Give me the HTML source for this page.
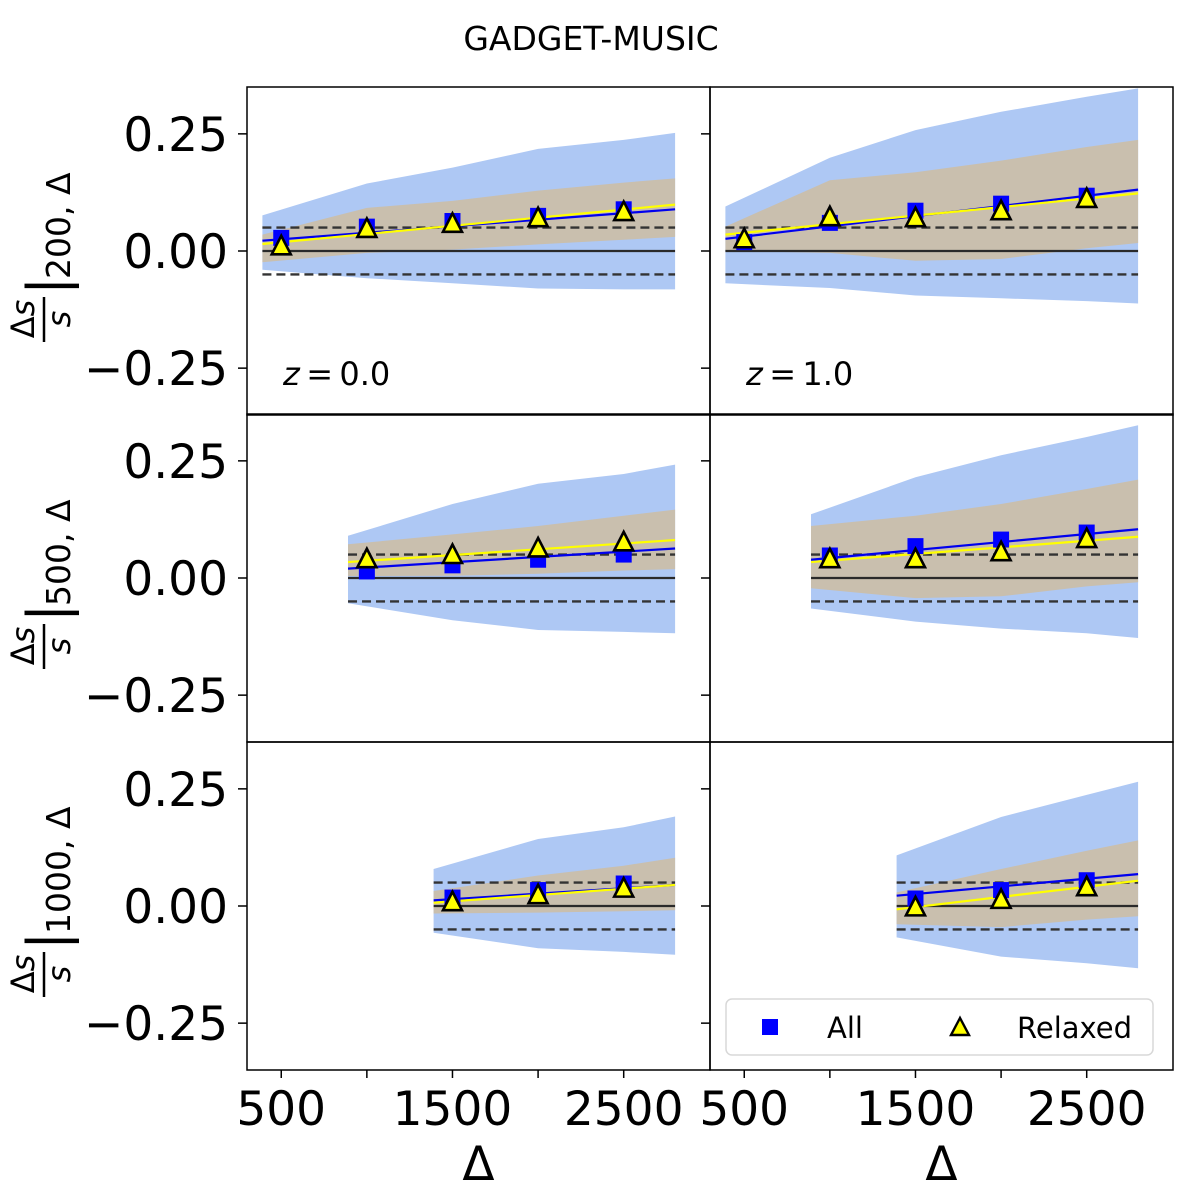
<!DOCTYPE html>
<html><head><meta charset="utf-8">
<style>
html,body{margin:0;padding:0;background:#fff;}
svg{display:block;font-family:"DejaVu Sans","Liberation Sans",sans-serif;}
</style></head>
<body>
<svg id="fig" width="1200" height="1194" viewBox="0 0 1200 1194" xmlns="http://www.w3.org/2000/svg">
<text x="591" y="50" font-size="33" text-anchor="middle">GADGET-MUSIC</text>
</svg>
<script>
// ---- data ----
const bandX = [[390,1000,1500,2000,2500,2800],[890,1500,2000,2500,2800],[1390,2000,2500,2800]];
// row 0 (200), col 0 (z=0) / col 1 (z=1)
const r0c0BlueUp = [0.076,0.144,0.178,0.218,0.237,0.252];
const r0c0BlueLo = [-0.040,-0.058,-0.069,-0.080,-0.082,-0.082];
const r0c0TanUp = [0.035,0.092,0.107,0.129,0.146,0.155];
const r0c0TanLo = [-0.024,-0.004,0.003,0.014,0.024,0.030];
const r0c0AllX = [500,1000,1500,2000,2500];
const r0c0All = [0.028,0.052,0.064,0.075,0.089];
const r0c0Rel = [0.009,0.046,0.057,0.069,0.082];
const r0c0FitAll = [0.022,0.089];
const r0c0FitRel = [0.015,0.099];

const r0c1BlueUp = [0.095,0.199,0.258,0.297,0.329,0.347];
const r0c1BlueLo = [-0.069,-0.079,-0.095,-0.101,-0.107,-0.112];
const r0c1TanUp = [0.052,0.151,0.168,0.193,0.222,0.237];
const r0c1TanLo = [0.000,-0.004,-0.021,-0.017,0.006,0.017];
const r0c1All = [0.019,0.060,0.086,0.101,0.118];
const r0c1Rel = [0.024,0.071,0.069,0.084,0.110];
const r0c1FitAll = [0.026,0.131];
const r0c1FitRel = [0.035,0.123];

// row 1 (500)
const r1AllX = [1000,1500,2000,2500];
const r1c0BlueUp = [0.090,0.158,0.201,0.222,0.242];
const r1c0BlueLo = [-0.054,-0.090,-0.111,-0.115,-0.118];
const r1c0TanUp = [0.072,0.093,0.111,0.133,0.146];
const r1c0TanLo = [0.004,0.005,0.009,0.016,0.019];
const r1c0All = [0.014,0.027,0.039,0.050];
const r1c0Rel = [0.039,0.048,0.062,0.075];
const r1c0FitAll = [0.020,0.063];
const r1c0FitRel = [0.034,0.081];

const r1c1BlueUp = [0.136,0.215,0.262,0.301,0.326];
const r1c1BlueLo = [-0.065,-0.093,-0.108,-0.118,-0.128];
const r1c1TanUp = [0.111,0.133,0.158,0.190,0.210];
const r1c1TanLo = [-0.022,-0.043,-0.039,-0.018,-0.009];
const r1c1All = [0.048,0.068,0.082,0.097];
const r1c1Rel = [0.039,0.039,0.054,0.082];
const r1c1FitAll = [0.039,0.104];
const r1c1FitRel = [0.034,0.088];

// row 2 (1000)
const r2AllX = [1500,2000,2500];
const r2c0BlueUp = [0.079,0.143,0.168,0.191];
const r2c0BlueLo = [-0.057,-0.090,-0.098,-0.104];
const r2c0TanUp = [0.032,0.065,0.086,0.103];
const r2c0TanLo = [-0.016,-0.014,-0.011,-0.009];
const r2c0All = [0.018,0.034,0.048];
const r2c0Rel = [0.007,0.022,0.036];
const r2c0FitAll = [0.012,0.045];
const r2c0FitRel = [0.007,0.045];

const r2c1BlueUp = [0.108,0.190,0.237,0.265];
const r2c1BlueLo = [-0.067,-0.108,-0.122,-0.133];
const r2c1TanUp = [0.029,0.079,0.118,0.140];
const r2c1TanLo = [-0.039,-0.045,-0.029,-0.022];
const r2c1All = [0.016,0.034,0.055];
const r2c1Rel = [-0.004,0.012,0.039];
const r2c1FitAll = [0.022,0.068];
const r2c1FitRel = [-0.007,0.054];

const yTicks = [-0.25,0,0.25];
const yTickLabels = ["\u22120.25","0.00","0.25"];
const xTicks = [500,1000,1500,2000,2500];
const xTickLabels = ["500","","1500","","2500"];
const rowSubs = ["200","500","1000"];
const zLabels = ["0.0","1.0"];

// ---- layout ----
const NS="http://www.w3.org/2000/svg";
const svg=document.getElementById('fig');
const colL=[247,710], colW=463, rowT=[87,414,742], rowH=328;
const XMIN=300, XMAX=3004, YMIN=-0.35, YMAX=0.35;
function mk(t,a,p){const e=document.createElementNS(NS,t);for(const k in a)e.setAttribute(k,a[k]);(p||svg).appendChild(e);return e;}
function sx(c,v){return colL[c]+(v-XMIN)/(XMAX-XMIN)*colW;}
function sy(r,v){return rowT[r]+(YMAX-v)/(YMAX-YMIN)*rowH;}

const panels=[
 {r:0,c:0,bx:bandX[0],bu:r0c0BlueUp,bl:r0c0BlueLo,tu:r0c0TanUp,tl:r0c0TanLo,px:r0c0AllX,a:r0c0All,re:r0c0Rel,fa:r0c0FitAll,fr:r0c0FitRel},
 {r:0,c:1,bx:bandX[0],bu:r0c1BlueUp,bl:r0c1BlueLo,tu:r0c1TanUp,tl:r0c1TanLo,px:r0c0AllX,a:r0c1All,re:r0c1Rel,fa:r0c1FitAll,fr:r0c1FitRel},
 {r:1,c:0,bx:bandX[1],bu:r1c0BlueUp,bl:r1c0BlueLo,tu:r1c0TanUp,tl:r1c0TanLo,px:r1AllX,a:r1c0All,re:r1c0Rel,fa:r1c0FitAll,fr:r1c0FitRel},
 {r:1,c:1,bx:bandX[1],bu:r1c1BlueUp,bl:r1c1BlueLo,tu:r1c1TanUp,tl:r1c1TanLo,px:r1AllX,a:r1c1All,re:r1c1Rel,fa:r1c1FitAll,fr:r1c1FitRel},
 {r:2,c:0,bx:bandX[2],bu:r2c0BlueUp,bl:r2c0BlueLo,tu:r2c0TanUp,tl:r2c0TanLo,px:r2AllX,a:r2c0All,re:r2c0Rel,fa:r2c0FitAll,fr:r2c0FitRel},
 {r:2,c:1,bx:bandX[2],bu:r2c1BlueUp,bl:r2c1BlueLo,tu:r2c1TanUp,tl:r2c1TanLo,px:r2AllX,a:r2c1All,re:r2c1Rel,fa:r2c1FitAll,fr:r2c1FitRel},
];
function band(p,up,lo,fill,name){
  let pts=[];
  for(let i=0;i<p.bx.length;i++)pts.push(sx(p.c,p.bx[i]).toFixed(1)+','+sy(p.r,up[i]).toFixed(1));
  for(let i=p.bx.length-1;i>=0;i--)pts.push(sx(p.c,p.bx[i]).toFixed(1)+','+sy(p.r,lo[i]).toFixed(1));
  const e=mk('polygon',{points:pts.join(' '),fill:fill});
  
  
}
panels.forEach((p)=>{
  const x0=colL[p.c], y0=rowT[p.r];
  band(p,p.bu,p.bl,'#aec8f4','all-scatter-band');
  band(p,p.tu,p.tl,'#c9bfae','relaxed-scatter-band');
  const xa=p.bx[0], xb=p.bx[p.bx.length-1];
  let l=mk('line',{x1:sx(p.c,xa),x2:sx(p.c,xb),y1:sy(p.r,0),y2:sy(p.r,0),stroke:'#2a2a2a','stroke-width':2.2});
  
  
  [0.05,-0.05].forEach(v=>{
    const d=mk('line',{x1:sx(p.c,xa),x2:sx(p.c,xb),y1:sy(p.r,v),y2:sy(p.r,v),stroke:'#333','stroke-width':2.3,'stroke-dasharray':'9,5'});
    
    
  });
  let fa=mk('line',{x1:sx(p.c,xa),x2:sx(p.c,xb),y1:sy(p.r,p.fa[0]),y2:sy(p.r,p.fa[1]),stroke:'#0000ee','stroke-width':2.2});
  
  
  let fr=mk('line',{x1:sx(p.c,xa),x2:sx(p.c,xb),y1:sy(p.r,p.fr[0]),y2:sy(p.r,p.fr[1]),stroke:'#ffff00','stroke-width':2.2});
  
  
  p.px.forEach((xv,i)=>{
    const cx=sx(p.c,xv), cy=sy(p.r,p.a[i]);
    const s=mk('rect',{x:cx-8,y:cy-8,width:16,height:16,fill:'#0000ff'});
    
    
  });
  p.px.forEach((xv,i)=>{
    const cx=sx(p.c,xv), cy=sy(p.r,p.re[i]);
    const t=mk('polygon',{points:`${cx},${cy-11} ${cx-9.5},${cy+7.5} ${cx+9.5},${cy+7.5}`,fill:'#ffff00',stroke:'#000','stroke-width':2.6});
    
    
  });
  const f=mk('rect',{x:x0,y:y0,width:colW,height:rowH,fill:'none',stroke:'#000','stroke-width':1.5});
  
  
  yTicks.forEach((v,i)=>{
    mk('line',{x1:x0-9,x2:x0,y1:sy(p.r,v),y2:sy(p.r,v),stroke:'#000','stroke-width':1.5});
    if(p.c===0){
      const t=mk('text',{x:x0-19,y:sy(p.r,v)+17,'font-size':47,'text-anchor':'end'});
      t.textContent=yTickLabels[i];
      
      
    }
  });
  if(p.r===2){
    xTicks.forEach((v,i)=>{
      mk('line',{x1:sx(p.c,v),x2:sx(p.c,v),y1:y0+rowH,y2:y0+rowH+8,stroke:'#000','stroke-width':1.5});
      if(xTickLabels[i]){
        const t=mk('text',{x:sx(p.c,v),y:1125,'font-size':47,'text-anchor':'middle'});
        t.textContent=xTickLabels[i];
        
        
      }
    });
    const xl=mk('text',{x:x0+colW/2,y:1180,'font-size':47,'text-anchor':'middle'});
    xl.textContent='\u0394';
    
    
  }
  if(p.r===0){
    const z=mk('text',{x:x0+36,y:385,'font-size':32});
    z.innerHTML='<tspan font-style="italic">z</tspan>\u2009=\u20090.0'.replace('0.0',zLabels[p.c]);
    
    
  }
});
// y axis titles
rowSubs.forEach((s,r)=>{
  const cy=rowT[r]+rowH/2+2;
  const g=mk('g',{transform:`translate(40,${cy}) rotate(-90)`});
  
  
  mk('text',{x:-66,y:-6,'font-size':32,'text-anchor':'middle'},g).innerHTML='\u0394<tspan font-style="italic">s</tspan>';
  mk('line',{x1:-89,x2:-44,y1:4,y2:4,stroke:'#000','stroke-width':2.5},g);
  mk('text',{x:-66,y:30,'font-size':32,'text-anchor':'middle','font-style':'italic'},g).textContent='s';
  mk('text',{x:-42,y:26,'font-size':54},g).textContent='|';
  mk('text',{x:-26,y:30,'font-size':33},g).textContent=s+', \u0394';
});
// legend
const lg=mk('g',{});


mk('rect',{x:726,y:999,width:427,height:56,rx:6,fill:'#fff','fill-opacity':0.85,stroke:'#d8d8d8','stroke-width':1.5},lg);
mk('rect',{x:762,y:1019,width:16,height:16,fill:'#0000ff'},lg);
const la=mk('text',{x:827,y:1038,'font-size':29},lg);la.textContent='All';


mk('polygon',{points:'960,1018 951,1035 969,1035',fill:'#ffff00',stroke:'#000','stroke-width':2.4},lg);
const lr=mk('text',{x:1017,y:1038,'font-size':29},lg);lr.textContent='Relaxed';


</script>
</body></html>
